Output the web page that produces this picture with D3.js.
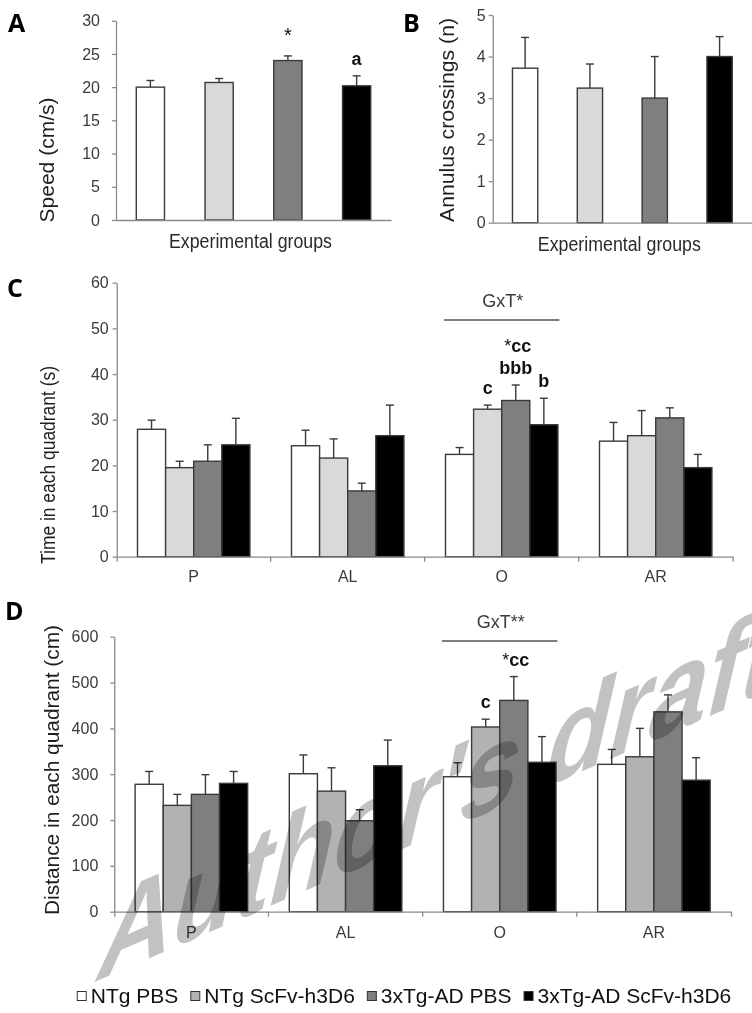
<!DOCTYPE html>
<meta charset="utf-8">
<style>
body { margin: 0; background: #fff; }
svg { display: block; font-family: "Liberation Sans", Arial, sans-serif; }
.axis path, .axis line { stroke: #8a8a8a; stroke-width: 1.3; }
.axis text { fill: #3a3a3a; font-size: 16px; font-family: "Liberation Sans", Arial, sans-serif; }
.bar { stroke: #3a3a3a; stroke-width: 1.4; }
.err { stroke: #3a3a3a; stroke-width: 1.4; }
.title { fill: #1e1e1e; font-size: 20px; }
.panel { font-family: "Open Sans", sans-serif; font-weight: bold; font-size: 25px; fill: #000; }
.mark { font-weight: bold; font-size: 18px; fill: #111; }
.gxt { fill: #3a3a3a; font-size: 18px; }
.legend text { fill: #111; font-size: 21px; }
</style>
<svg width="752" height="1013"></svg>
<script src="https://cdn.jsdelivr.net/npm/d3@7"></script>
<script>

var groups = ["NTg PBS", "NTg ScFv-h3D6", "3xTg-AD PBS", "3xTg-AD ScFv-h3D6"];
var quadrants = ["P", "AL", "O", "AR"];

// A: speed (cm/s)
var speedMean = [20.0, 20.7, 24.0, 20.2];
var speedSem = [1.0, 0.6, 0.7, 1.5];
var speedMarks = [{g: 2, lines: ["*"]}, {g: 3, lines: ["a"]}];

// B: annulus crossings (n)
var crossMean = [3.72, 3.24, 3.0, 4.0];
var crossSem = [0.74, 0.58, 1.0, 0.48];

// C: time in each quadrant (s), rows = groups, cols = quadrants
var timeMean = [
  [27.9, 24.3, 22.4, 25.3],
  [19.5, 21.6, 32.3, 26.5],
  [20.9, 14.4, 34.2, 30.4],
  [24.5, 26.5, 28.9, 19.5]
];
var timeSem = [
  [2.0, 3.4, 1.5, 4.1],
  [1.4, 4.2, 0.9, 5.5],
  [3.6, 1.7, 3.4, 2.2],
  [5.8, 6.7, 5.8, 2.9]
];
var timeMarks = [
  {q: "O", g: 1, lines: ["c"]},
  {q: "O", g: 2, lines: ["bbb", "*cc"]},
  {q: "O", g: 3, lines: ["b"]}
];

// D: distance in each quadrant (cm)
var distMean = [
  [278, 301, 294.5, 321.5],
  [232, 263, 403, 338],
  [256, 198.5, 461, 436],
  [280, 318.5, 326, 287]
];
var distSem = [
  [28, 41, 30.5, 32.5],
  [24, 51, 17, 62],
  [43, 24, 52, 37],
  [26, 56, 56, 49]
];
var distMarks = [
  {q: "O", g: 1, lines: ["c"]},
  {q: "O", g: 2, lines: ["*cc"]}
];

var colorsLight = ["#ffffff", "#d9d9d9", "#7f7f7f", "#000000"];
var colorsDist = ["#ffffff", "#b2b2b2", "#7f7f7f", "#000000"];

var svg = d3.select("svg");

function yTitle(txt, x, y, len) {
  svg.append("text").attr("class", "title")
      .attr("transform", "translate(" + x + "," + y + ") rotate(-90)")
      .attr("text-anchor", "middle")
      .attr("textLength", len)
      .attr("lengthAdjust", "spacingAndGlyphs")
      .text(txt);
}

function markText(sel, txt) {
  if (txt[0] == "*") {
    sel.append("tspan").style("font-weight", "normal").text("*");
    sel.append("tspan").text(txt.slice(1));
  } else {
    sel.text(txt);
  }
}

function errBars(list, y) {
  list.forEach(function(d) {
    svg.append("line").attr("class", "err")
        .attr("x1", d.cx).attr("x2", d.cx)
        .attr("y1", y(d.v)).attr("y2", y(d.v + d.e));
    svg.append("line").attr("class", "err")
        .attr("x1", d.cx - 4).attr("x2", d.cx + 4)
        .attr("y1", y(d.v + d.e)).attr("y2", y(d.v + d.e));
  });
}

function simplePanel(p) {
  var x = d3.scaleBand().domain(groups).range([p.left, p.right])
      .paddingInner(p.pad).paddingOuter(p.pad / 2);
  var y = d3.scaleLinear().domain([0, p.max]).range([p.bottom, p.top]);

  var data = p.mean.map(function(v, i) {
    return {g: i, v: v, e: p.sem[i], cx: x(groups[i]) + x.bandwidth() / 2};
  });

  svg.selectAll(null).data(data).enter().append("rect")
      .attr("class", "bar")
      .attr("x", function(d) { return x(groups[d.g]); })
      .attr("y", function(d) { return y(d.v); })
      .attr("width", x.bandwidth())
      .attr("height", function(d) { return y(0) - y(d.v); })
      .attr("fill", function(d) { return colorsLight[d.g]; });
  errBars(data, y);

  svg.append("g").attr("class", "axis")
      .attr("transform", "translate(" + p.left + ",0)")
      .call(d3.axisLeft(y).ticks(p.nticks).tickSize(4).tickSizeOuter(0).tickPadding(p.tp));
  svg.append("g").attr("class", "axis")
      .attr("transform", "translate(0," + p.bottom + ")")
      .call(d3.axisBottom(x).tickSize(0).tickSizeOuter(0).tickFormat(""));

  svg.append("text").attr("class", "title")
      .attr("x", (p.left + p.right) / 2 - 3).attr("y", p.bottom + 28)
      .attr("text-anchor", "middle")
      .attr("textLength", 163).attr("lengthAdjust", "spacingAndGlyphs")
      .style("fill", "#2a2a2a")
      .text("Experimental groups");

  (p.marks || []).forEach(function(m) {
    var d = data[m.g];
    m.lines.forEach(function(t, k) {
      var tx = svg.append("text").attr("class", "mark")
          .attr("text-anchor", "middle")
          .attr("x", d.cx).attr("y", y(d.v + d.e) - 11 - 22 * k);
      if (t == "*") tx.style("font-weight", "normal").style("font-size", "20px").attr("y", y(d.v + d.e) - 14);
      markText(tx, t);
    });
  });
}

function groupedPanel(p) {
  var x0 = d3.scaleBand().domain(quadrants).range([p.left, p.right])
      .paddingInner(0.27).paddingOuter(0.135);
  var x1 = d3.scaleBand().domain(groups).range([0, x0.bandwidth()]);
  var y = d3.scaleLinear().domain([0, p.max]).range([p.bottom, p.top]);

  var data = [];
  p.mean.forEach(function(row, gi) {
    row.forEach(function(v, qi) {
      data.push({g: gi, q: quadrants[qi], v: v, e: p.sem[gi][qi],
                 cx: x0(quadrants[qi]) + x1(groups[gi]) + x1.bandwidth() / 2});
    });
  });

  svg.selectAll(null).data(data).enter().append("rect")
      .attr("class", "bar")
      .attr("x", function(d) { return x0(d.q) + x1(groups[d.g]); })
      .attr("y", function(d) { return y(d.v); })
      .attr("width", x1.bandwidth())
      .attr("height", function(d) { return y(0) - y(d.v); })
      .attr("fill", function(d) { return p.colors[d.g]; });
  errBars(data, y);

  svg.append("g").attr("class", "axis")
      .attr("transform", "translate(" + p.left + ",0)")
      .call(d3.axisLeft(y).ticks(6).tickSize(4).tickSizeOuter(0).tickPadding(p.tp));
  var xa = svg.append("g").attr("class", "axis")
      .attr("transform", "translate(0," + p.bottom + ")")
      .call(d3.axisBottom(x0).tickSize(0).tickSizeOuter(5).tickPadding(p.lp));
  d3.range(1, quadrants.length).forEach(function(i) {
    var bx = x0.range()[0] + i * x0.step();
    xa.append("line").attr("x1", bx).attr("x2", bx).attr("y1", 0).attr("y2", 5);
  });

  // interaction label over quadrant O
  var gx0 = x0("O"), gx1 = x0("O") + x0.bandwidth();
  svg.append("line")
      .attr("x1", gx0 - 1.5).attr("x2", gx1 + 1.5)
      .attr("y1", p.gxtLine).attr("y2", p.gxtLine)
      .attr("stroke", "#555").attr("stroke-width", 1.4);
  svg.append("text").attr("class", "gxt")
      .attr("x", (gx0 + gx1) / 2 + 1).attr("y", p.gxtLine - 13)
      .attr("text-anchor", "middle")
      .text(p.gxt);

  p.marks.forEach(function(m) {
    var d = data.filter(function(r) { return r.q == m.q && r.g == m.g; })[0];
    m.lines.forEach(function(t, k) {
      var tx = svg.append("text").attr("class", "mark")
          .attr("text-anchor", "middle")
          .attr("x", d.cx + (t == "*cc" ? 2 : 0))
          .attr("y", y(d.v + d.e) - 11 - 22 * k);
      markText(tx, t);
    });
  });
}

simplePanel({left: 116, right: 391, top: 20.7, bottom: 220, max: 30, nticks: 6, tp: 12, pad: 0.59,
             mean: speedMean, sem: speedSem, marks: speedMarks});
simplePanel({left: 492.7, right: 752, top: 15, bottom: 222.7, max: 5, nticks: 5, tp: 3, pad: 0.61,
             mean: crossMean, sem: crossSem});
groupedPanel({left: 116.7, right: 732.7, top: 282.7, bottom: 556.7, max: 60, tp: 4, lp: 14,
              mean: timeMean, sem: timeSem, colors: colorsLight, marks: timeMarks,
              gxt: "GxT*", gxtLine: 320});
groupedPanel({left: 114.3, right: 731, top: 636.7, bottom: 911.7, max: 600, tp: 12, lp: 15,
              mean: distMean, sem: distSem, colors: colorsDist, marks: distMarks,
              gxt: "GxT**", gxtLine: 641});

yTitle("Speed (cm/s)", 54, 160, 125);
yTitle("Annulus crossings (n)", 454, 120, 204);
yTitle("Time in each quadrant  (s)", 55, 465, 198);
yTitle("Distance in each quadrant  (cm)", 59, 770, 290);

[["A", 8, 32], ["B", 403, 32], ["C", 7, 297], ["D", 5, 620]].forEach(function(l) {
  svg.append("text").attr("class", "panel").attr("x", l[1]).attr("y", l[2]).text(l[0]);
});

// legend
var legend = svg.append("g").attr("class", "legend");
var lx = 0;
groups.forEach(function(name, i) {
  legend.append("rect").attr("x", lx + 0.5).attr("y", 991.5).attr("width", 9).attr("height", 9)
      .attr("fill", colorsDist[i]).attr("stroke", "#333").attr("stroke-width", 1);
  var t = legend.append("text").attr("x", lx + 14).attr("y", 1002.5).text(name);
  lx += 14 + t.node().getComputedTextLength() + 12;
});
legend.attr("transform", "translate(" + (404 - (lx - 12) / 2) + ",0)");

// watermark, slanted upward across panel D
svg.append("text")
    .attr("transform", "matrix(1.03,-0.445,-0.3,1.3,92,983)")
    .style("font-size", "100px")
    .style("font-weight", "bold")
    .style("fill", "#c2c2c2")
    .style("mix-blend-mode", "multiply")
    .text("Author's draft");

</script>
